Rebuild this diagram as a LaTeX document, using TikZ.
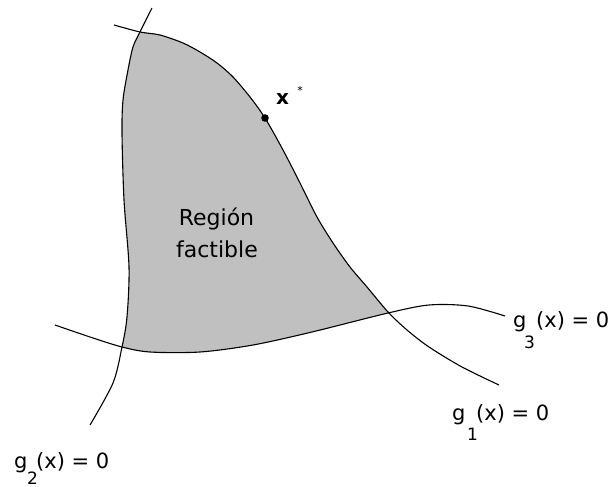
\documentclass[tikz,border=0pt]{standalone}
\usepackage{fontspec}
\setmainfont{DejaVu Sans}
\definecolor{regionfill}{RGB}{192,192,192}
\tikzset{
  curve/.style={line width=1.1pt, black},
  lbl/.style={inner sep=0pt, font=\fontsize{21}{25}\selectfont},
  sublbl/.style={inner sep=0pt, font=\fontsize{17}{20}\selectfont},
  regionlbl/.style={inner sep=0pt, font=\fontsize{22}{26}\selectfont},
}
\begin{document}
\begin{tikzpicture}[x=1pt,y=-1pt]
\useasboundingbox (0,0) rectangle (611,487);
\fill[white] (0,0) rectangle (611,487);
% feasible region
\fill[regionfill] plot[smooth] coordinates {(140,32) (133,47) (128,70) (123,100) (122,133) (124,200) (129,267) (127,317) (122,347)}
  -- plot[smooth] coordinates {(122,347) (150,352) (200,352) (253,345) (312,332) (388,313)}
  -- plot[smooth] coordinates {(388,312) (367,287) (350,267) (333,243) (317,217) (300,183) (283,150) (265,118) (250,97) (233,77) (217,63) (200,52) (183,43) (160,35) (140,32)}
  -- cycle;
% g1
\draw[curve] plot[smooth] coordinates {(114,25) (140,32) (160,35) (183,43) (200,52) (217,63) (233,77) (250,97) (265,118) (283,150) (300,183) (317,217) (333,243) (350,267) (367,287) (388,312) (407,330) (429,347) (462,367) (499,385)};
% g2
\draw[curve] plot[smooth] coordinates {(152,8) (140,32) (133,47) (128,70) (123,100) (122,133) (124,200) (129,267) (127,317) (122,347) (113,383) (90,425)};
% g3
\draw[curve] plot[smooth] coordinates {(55,325) (90,337) (122,347) (150,352) (200,352) (253,345) (312,332) (388,313) (429,305) (468,306) (505,316)};
% optimum
\coordinate (xs) at (265,118);
\fill (xs) circle (3.8);
\node[inner sep=0pt, anchor=base west, font=\fontsize{20}{24}\selectfont\bfseries] (xlab) at (276,105) {x};
\node[inner sep=0pt, font=\fontsize{11}{12}\selectfont] (star) at (300,90) {*};
% region text
\node[regionlbl, anchor=base] (reg1) at (216.5,225) {Región};
\node[regionlbl, anchor=base] (reg2) at (217,257) {factible};
% g3 label
\node[lbl, anchor=base west] (g3g) at (513,327) {g};
\node[sublbl, anchor=base west] (g3s) at (524,348) {3};
\node[lbl, anchor=base west] (g3r) at (536,327) {(x) = 0};
% g1 label
\node[lbl, anchor=base west] (g1g) at (452,420) {g};
\node[sublbl, anchor=base west] (g1s) at (467,440) {1};
\node[lbl, anchor=base west] (g1r) at (476,420) {(x) = 0};
% g2 label
\node[lbl, anchor=base west] (g2g) at (14,468) {g};
\node[sublbl, anchor=base west] (g2s) at (27,484) {2};
\node[lbl, anchor=base west] (g2r) at (36,468) {(x) = 0};
\end{tikzpicture}
\end{document}
